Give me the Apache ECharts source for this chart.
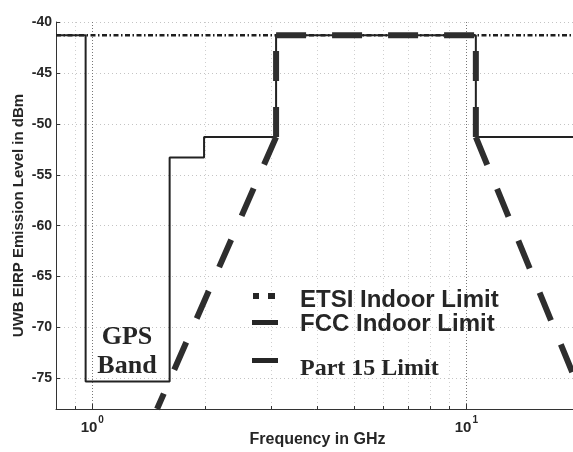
<!DOCTYPE html>
<html>
<head>
<meta charset="utf-8">
<script src="https://cdn.jsdelivr.net/npm/echarts@6/dist/echarts.min.js"></script>
<style>
  html, body { margin: 0; padding: 0; background: #ffffff; }
  #chart { width: 573px; height: 452px; }
</style>
</head>
<body>
<div id="chart"></div>
<script>
// Frequency axis (GHz, log scale) and level axis (dBm) ranges
const freqRange = [0.8, 20];
const levelRange = [-78, -40];
// Minor decade positions marked on the frequency axis
const freqMinorTicks = [0.9, 2, 3, 4, 5, 6, 7, 8, 9, 20];

// ETSI indoor emission mask
const etsiFreq = [0.8, 20];
const etsiLevel = [-41.3, -41.3];

// FCC indoor emission mask
const fccFreq  = [0.8, 0.96, 0.96, 1.61, 1.61, 1.99, 1.99, 3.1, 3.1, 10.6, 10.6, 20];
const fccLevel = [-41.3, -41.3, -75.3, -75.3, -53.3, -53.3, -51.3, -51.3, -41.3, -41.3, -51.3, -51.3];

// Part 15 limit, one array pair per straight run
const p15LowSlopeFreq  = [3.1, 1.49];
const p15LowSlopeLevel = [-51.3, -78];
const p15RiseFreq      = [3.1, 3.1];
const p15RiseLevel     = [-51.3, -41.3];
const p15TopFreq       = [3.1, 10.6];
const p15TopLevel      = [-41.3, -41.3];
const p15FallFreq      = [10.6, 10.6];
const p15FallLevel     = [-51.3, -41.3];
const p15HighSlopeFreq  = [10.6, 20];
const p15HighSlopeLevel = [-51.3, -76];

const pairs = (xs, ys) => xs.map((x, i) => [x, ys[i]]);

const INK = '#262626';
const SANS = '"Liberation Sans", Arial, sans-serif';
const SERIF = '"Liberation Serif", "Times New Roman", serif';

const part15Style = { color: '#2e2e2e', width: 6, type: [30, 26], cap: 'butt' };
const part15Runs = [
  [p15LowSlopeFreq, p15LowSlopeLevel],
  [p15RiseFreq, p15RiseLevel],
  [p15TopFreq, p15TopLevel],
  [p15FallFreq, p15FallLevel],
  [p15HighSlopeFreq, p15HighSlopeLevel]
].map(([f, l]) => ({
  name: 'Part 15 Limit',
  type: 'line',
  data: pairs(f, l),
  showSymbol: false,
  symbol: 'none',
  silent: true,
  z: 4,
  lineStyle: part15Style
}));

const chart = echarts.init(document.getElementById('chart'), null, { renderer: 'canvas' });

chart.setOption({
  animation: false,
  backgroundColor: '#ffffff',
  legend: { show: false },
  grid: { left: 56, right: -6, top: 22, bottom: 43, containLabel: false, outerBoundsMode: 'none' },
  xAxis: {
    type: 'log',
    logBase: 10,
    min: freqRange[0],
    max: freqRange[1],
    name: 'Frequency in GHz',
    nameLocation: 'middle',
    nameGap: 23,
    nameMoveOverlap: false,
    nameTextStyle: { fontFamily: SANS, fontWeight: 'bold', fontSize: 16, color: INK },
    axisLine: { lineStyle: { color: '#333', width: 1 } },
    axisTick: { inside: true, length: 5, lineStyle: { color: '#333' } },
    axisLabel: {
      margin: 6,
      formatter: function (v) {
        const e = Math.log10(v);
        if (Math.abs(e - Math.round(e)) > 1e-6) return '';
        return '{b|10}{s|' + Math.round(e) + '}';
      },
      rich: {
        b: { fontFamily: SANS, fontWeight: 'bold', fontSize: 15, color: INK, lineHeight: 20, verticalAlign: 'bottom' },
        s: { fontFamily: SANS, fontWeight: 'bold', fontSize: 10, color: INK, lineHeight: 20, verticalAlign: 'top', padding: [0, 0, 0, 1] }
      }
    },
    splitLine: { show: true, lineStyle: { color: '#777', type: [1, 2], width: 1 } }
  },
  yAxis: {
    type: 'value',
    min: levelRange[0],
    max: levelRange[1],
    splitNumber: 8,
    name: 'UWB EIRP Emission Level in dBm',
    nameLocation: 'middle',
    nameGap: 30,
    nameMoveOverlap: false,
    nameTextStyle: { fontFamily: SANS, fontWeight: 'bold', fontSize: 15, color: INK },
    axisLine: { show: true, lineStyle: { color: '#333', width: 1 } },
    axisTick: { show: true, inside: true, length: 4, lineStyle: { color: '#333' } },
    axisLabel: {
      margin: 4,
      fontFamily: SANS, fontWeight: 'bold', fontSize: 14, color: INK,
      formatter: v => (v % 5 === 0 ? String(v) : '')
    },
    splitLine: { show: true, lineStyle: { color: '#c4c4c4', type: [1, 3], width: 1 } }
  },
  series: [
    {
      // minor decade grid lines with short inward ticks on the frequency axis
      type: 'custom',
      silent: true,
      z: 1,
      data: freqMinorTicks.map(v => [v, levelRange[0]]),
      renderItem: function (params, api) {
        const cs = params.coordSys;
        const x = Math.round(api.coord([api.value(0), api.value(1)])[0]) + 0.5;
        const top = cs.y, bottom = cs.y + cs.height;
        return {
          type: 'group',
          children: [
            { type: 'line', shape: { x1: x, y1: top, x2: x, y2: bottom },
              style: { stroke: '#cfcfcf', lineWidth: 1, lineDash: [1, 3] } },
            { type: 'line', shape: { x1: x, y1: bottom, x2: x, y2: bottom - 3 },
              style: { stroke: '#333', lineWidth: 1 } }
          ]
        };
      }
    },
    {
      name: 'ETSI Indoor Limit',
      type: 'line',
      data: pairs(etsiFreq, etsiLevel),
      symbol: 'none',
      silent: true,
      z: 2,
      lineStyle: { color: '#1e1e1e', width: 2.5, type: [5, 2.5, 1.5, 2.5], cap: 'butt' }
    },
    {
      name: 'FCC Indoor Limit',
      type: 'line',
      data: pairs(fccFreq, fccLevel),
      symbol: 'none',
      silent: true,
      z: 3,
      lineStyle: { color: '#222', width: 2 }
    }
  ].concat(part15Runs),
  graphic: [
    // key
    { type: 'rect', z: 10, shape: { x: 253, y: 293, width: 6, height: 6 }, style: { fill: INK } },
    { type: 'rect', z: 10, shape: { x: 268, y: 293, width: 7, height: 6 }, style: { fill: INK } },
    { type: 'text', z: 10, x: 300, y: 300, style: { text: 'ETSI Indoor Limit', font: 'bold 24px ' + SANS, fill: INK, verticalAlign: 'middle' } },
    { type: 'rect', z: 10, shape: { x: 252, y: 320, width: 26, height: 5 }, style: { fill: INK } },
    { type: 'text', z: 10, x: 300, y: 324, style: { text: 'FCC Indoor Limit', font: 'bold 24px ' + SANS, fill: INK, verticalAlign: 'middle' } },
    { type: 'rect', z: 10, shape: { x: 252, y: 358, width: 26, height: 5 }, style: { fill: INK } },
    { type: 'text', z: 10, x: 300, y: 369, style: { text: 'Part 15 Limit', font: 'bold 24px ' + SERIF, fill: INK, verticalAlign: 'middle' } },
    // band annotation
    { type: 'text', z: 10, x: 127, y: 337, style: { text: 'GPS', font: 'bold 26px ' + SERIF, fill: INK, align: 'center', verticalAlign: 'middle' } },
    { type: 'text', z: 10, x: 127, y: 366, style: { text: 'Band', font: 'bold 26px ' + SERIF, fill: INK, align: 'center', verticalAlign: 'middle' } }
  ]
});
</script>
</body>
</html>
